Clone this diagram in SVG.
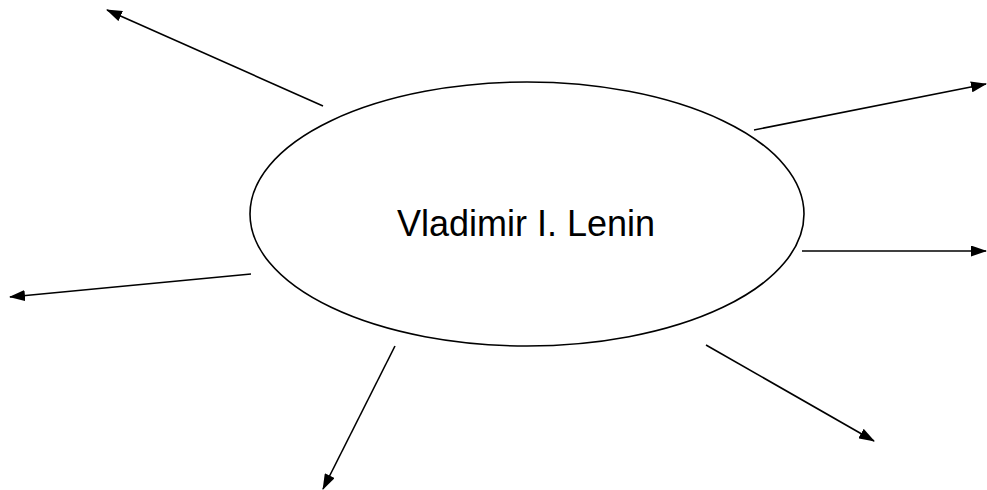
<svg xmlns="http://www.w3.org/2000/svg" width="987" height="490" viewBox="0 0 987 490">
<style>
.edge{stroke:#000;stroke-width:1.6;fill:none;marker-end:url(#ah)}
.node{fill:#fff;stroke:#000;stroke-width:1.6}
.lbl{font-family:"Liberation Sans",Arial,sans-serif;font-size:36px;fill:#000;text-anchor:middle}
</style>
<defs>
<marker id="ah" viewBox="0 0 16 11" refX="15" refY="5.5" markerWidth="16" markerHeight="11" markerUnits="userSpaceOnUse" orient="auto">
<path d="M0,0 L16,5.5 L0,11 Z" fill="#000"/>
</marker>
</defs>
<rect width="987" height="490" fill="#fff"/>
<g id="center">
<ellipse class="node" cx="527" cy="214" rx="277" ry="132"/>
<text class="lbl" x="526" y="236">Vladimir I. Lenin</text>
</g>
<g id="connectors">
<line class="edge" x1="323" y1="106" x2="107" y2="10"/>
<line class="edge" x1="754" y1="130" x2="986" y2="84"/>
<line class="edge" x1="802" y1="251" x2="986" y2="251"/>
<line class="edge" x1="251" y1="274" x2="10" y2="297"/>
<line class="edge" x1="395" y1="346" x2="323" y2="489"/>
<line class="edge" x1="706" y1="345" x2="874" y2="441"/>
</g>
</svg>
